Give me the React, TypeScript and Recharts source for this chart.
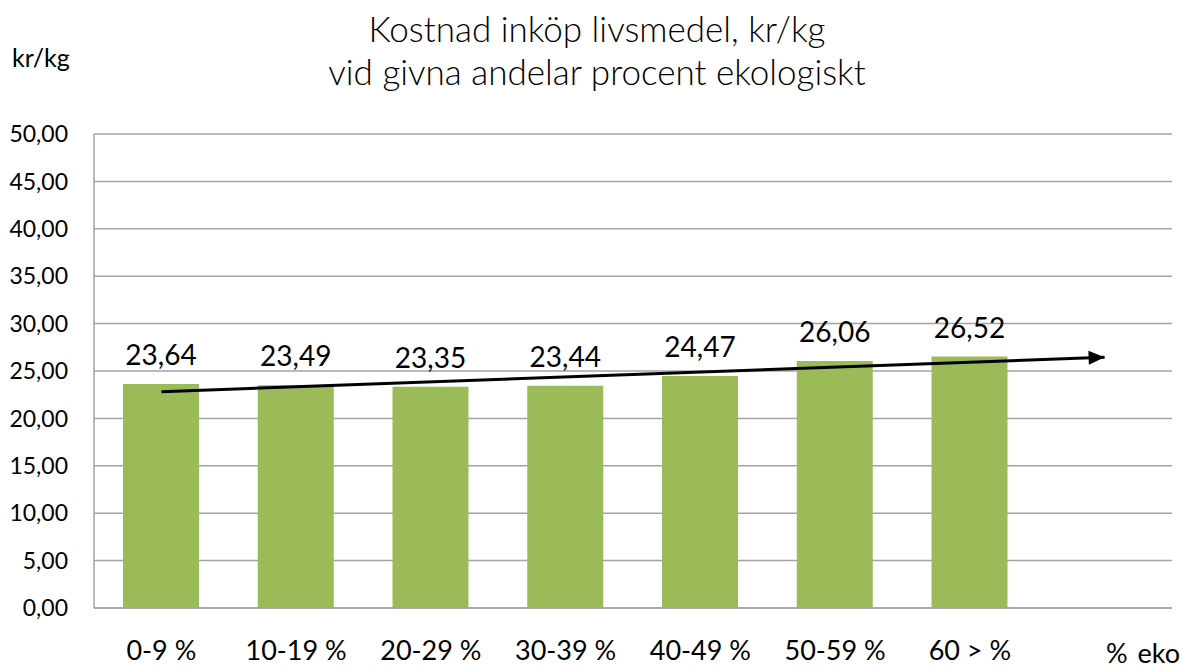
import {
  ComposedChart,
  Bar,
  Line,
  XAxis,
  YAxis,
  CartesianGrid,
  LabelList,
} from 'recharts'

const CATEGORIES = ['0-9 %', '10-19 %', '20-29 %', '30-39 %', '40-49 %', '50-59 %', '60 > %', '']
const COST = [23.64, 23.49, 23.35, 23.44, 24.47, 26.06, 26.52, null]
// arrow drawn by hand in the original
const TREND = [22.82, null, null, null, null, null, null, 26.45]
const Y_TICKS = [0, 5, 10, 15, 20, 25, 30, 35, 40, 45, 50]

const data = CATEGORIES.map((cat, i) => ({ cat, cost: COST[i], trend: TREND[i] }))

const FONT = 'Lato, "Open Sans", sans-serif'
const GRID = '#a3a3a3'

const fmt = (v: number) => v.toFixed(2).replace('.', ',')

function ArrowDot(props: any) {
  const { cx, cy, index, points } = props
  if (index !== TREND.length - 1 || cx == null || cy == null) return <g key={`d-${index}`} />
  let angle = 0
  const valid = (points || []).filter((p: any) => p && p.y != null)
  if (valid.length > 1) {
    const a = valid[0]
    angle = (Math.atan2(cy - a.y, cx - a.x) * 180) / Math.PI
  }
  return (
    <polygon
      key={`d-${index}`}
      points={`${cx},${cy} ${cx - 16},${cy - 7} ${cx - 16},${cy + 7}`}
      fill="#000"
      transform={`rotate(${angle} ${cx} ${cy})`}
    />
  )
}

export default function App() {
  return (
    <div style={{ position: 'absolute', left: 0, top: 0, width: 1184, height: 668, background: '#fff', fontFamily: FONT, overflow: 'hidden' }}>
      <div
        style={{
          position: 'absolute',
          left: 97,
          top: 7,
          width: 1000,
          textAlign: 'center',
          fontSize: 35,
          fontWeight: 300,
          lineHeight: '43px',
          color: '#000',
        }}
      >
        Kostnad inköp livsmedel, kr/kg
        <br />
        vid givna andelar procent ekologiskt
      </div>
      <div style={{ position: 'absolute', left: 12, top: 44, fontSize: 25, lineHeight: '26px', color: '#000', whiteSpace: 'nowrap' }}>
        kr/kg
      </div>
      <div
        style={{
          position: 'absolute',
          left: 1094,
          width: 86,
          top: 639,
          fontSize: 27,
          lineHeight: '28px',
          textAlign: 'right',
          wordSpacing: 3,
          color: '#000',
          whiteSpace: 'nowrap',
        }}
      >
        % eko
      </div>
      <ComposedChart
        width={1184}
        height={668}
        data={data}
        margin={{ top: 134, right: 12, left: 0, bottom: 0 }}
      >
        <CartesianGrid vertical={false} stroke={GRID} strokeWidth={1.5} />
        <XAxis
          dataKey="cat"
          height={60}
          axisLine={{ stroke: GRID, strokeWidth: 1.5 }}
          tickLine={false}
          tickSize={0}
          tickMargin={33}
          interval={0}
          tick={{ fontSize: 27, fill: '#000', fontFamily: FONT }}
        />
        <YAxis
          width={94}
          domain={[0, 50]}
          ticks={Y_TICKS}
          tickFormatter={fmt}
          axisLine={{ stroke: GRID, strokeWidth: 1.5 }}
          tickLine={false}
          tickSize={0}
          tickMargin={26}
          tick={{ fontSize: 23, fill: '#000', fontFamily: FONT }}
        />
        <Bar dataKey="cost" fill="#9bbb59" barSize={76} isAnimationActive={false}>
          <LabelList
            dataKey="cost"
            position="top"
            offset={19}
            formatter={(v: any) => (v == null ? '' : fmt(Number(v)))}
            style={{ fontSize: 28, fill: '#000', fontFamily: FONT }}
          />
        </Bar>
        <Line
          dataKey="trend"
          stroke="#000"
          strokeWidth={3}
          connectNulls
          dot={ArrowDot}
          activeDot={false}
          isAnimationActive={false}
        />
      </ComposedChart>
    </div>
  )
}
